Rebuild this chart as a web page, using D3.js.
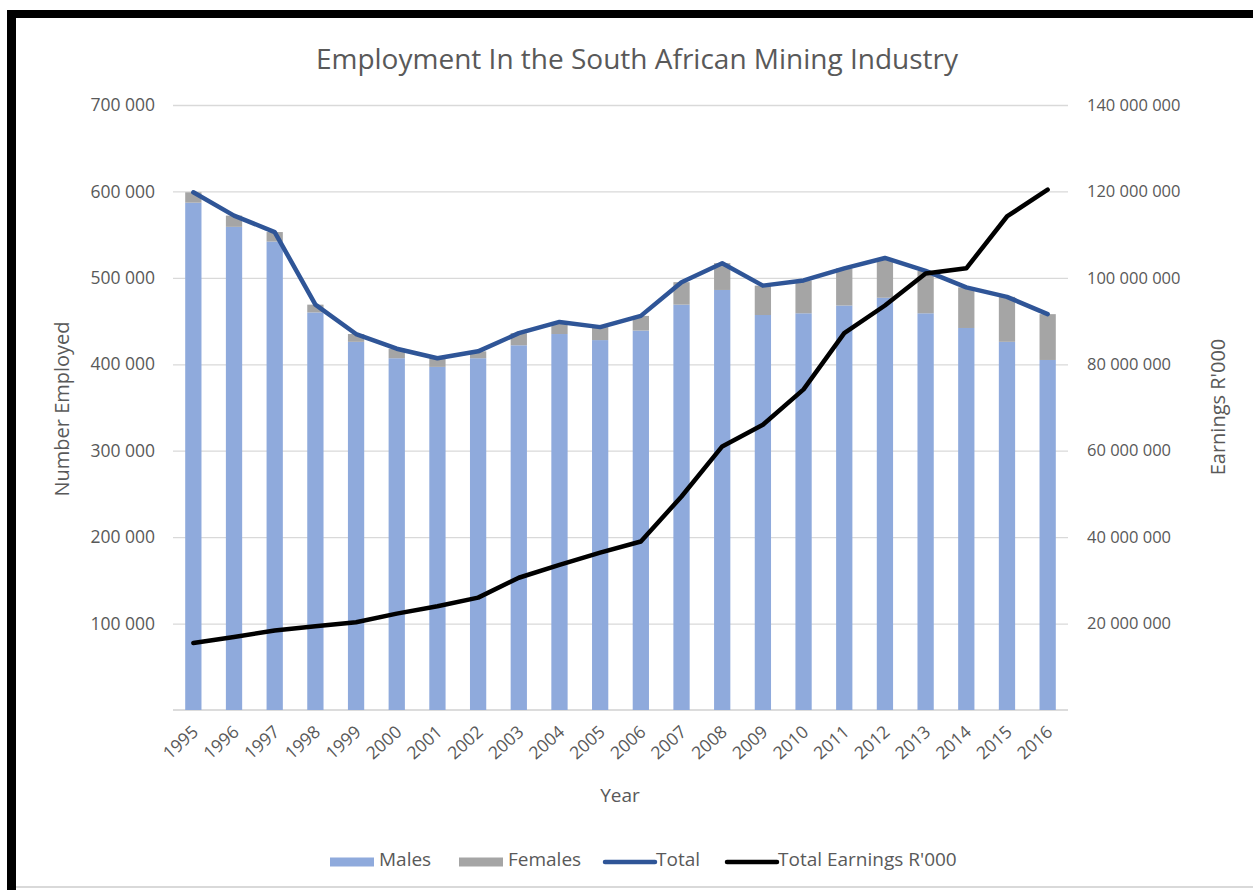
<!DOCTYPE html>
<html>
<head>
<meta charset="utf-8">
<script src="https://cdn.jsdelivr.net/npm/d3@7"></script>
<style>
  body { margin: 0; background: #fff; }
  text { font-family: 'Open Sans', sans-serif; fill: #595959; }
</style>
</head>
<body>
<script>
// values
let years = ['1995', '1996', '1997', '1998', '1999', '2000', '2001', '2002', '2003', '2004', '2005',
    '2006', '2007', '2008', '2009', '2010', '2011', '2012', '2013', '2014', '2015', '2016'];
let males = [587000, 559000, 542000, 460000, 426000, 407000, 397000, 407000, 422000, 435000, 428000,
    439000, 469000, 486000, 457000, 459000, 468000, 477000, 459000, 442000, 426000, 405000];
let totals = [599000, 572000, 553000, 469000, 435000, 418000, 407000, 415000, 436000, 449000, 443000,
    456000, 495000, 517000, 491000, 497000, 511000, 523000, 508000, 489000, 478000, 458000];
let earnings = [15500000, 16900000, 18400000, 19400000, 20300000, 22300000, 24000000, 26000000, 30600000,
    33600000, 36400000, 39000000, 49400000, 61000000, 66000000, 74200000, 87200000, 93600000, 101000000,
    102200000, 114200000, 120400000];
let leftTicks = [100000, 200000, 300000, 400000, 500000, 600000, 700000];
let rightTicks = [20000000, 40000000, 60000000, 80000000, 100000000, 120000000, 140000000];
let legendItems = ['Males', 'Females', 'Total', "Total Earnings R'000"];

let width = 1253, height = 890;
let plot = {left: 173, right: 1068, top: 105, bottom: 710};

let svg = d3.select('body').append('svg')
    .attr('width', width)
    .attr('height', height);

// frame of the screenshot
svg.append('rect').attr('x', 7).attr('y', 10).attr('width', width - 7).attr('height', 8).attr('fill', '#000');
svg.append('rect').attr('x', 7).attr('y', 10).attr('width', 9).attr('height', height - 10).attr('fill', '#000');
svg.append('rect').attr('x', 16).attr('y', 886).attr('width', width - 16).attr('height', 2).attr('fill', '#d9d9d9');

let x = d3.scaleBand()
    .domain(years)
    .range([plot.left, plot.right])
    .paddingInner(0.6)
    .paddingOuter(0.3);

let y = d3.scaleLinear().domain([0, 700000]).range([plot.bottom, plot.top]);
let y2 = d3.scaleLinear().domain([0, 140000000]).range([plot.bottom, plot.top]);

let fmt = v => d3.format(',')(v).replace(/,/g, ' ');

// gridlines + left axis
let leftAxis = svg.append('g')
    .attr('transform', 'translate(' + plot.left + ',0)')
    .call(d3.axisLeft(y).tickValues(leftTicks).tickFormat(fmt).tickSize(-(plot.right - plot.left)).tickPadding(18));
leftAxis.select('.domain').remove();
leftAxis.selectAll('line').attr('stroke', '#d9d9d9').attr('stroke-width', 1.3);
leftAxis.selectAll('text').style('font-size', '17.5px').style('fill', '#595959');

let rightAxis = svg.append('g')
    .attr('transform', 'translate(' + plot.right + ',0)')
    .call(d3.axisRight(y2).tickValues(rightTicks).tickFormat(fmt).tickSize(0).tickPadding(19));
rightAxis.select('.domain').remove();
rightAxis.selectAll('text').style('font-size', '16.5px').style('fill', '#595959');

// baseline
svg.append('line')
    .attr('x1', plot.left).attr('x2', plot.right)
    .attr('y1', plot.bottom).attr('y2', plot.bottom)
    .attr('stroke', '#d0d0d0').attr('stroke-width', 1.3);

// stacked bars
let rows = years.map((yr, i) => ({year: yr, males: males[i], females: totals[i] - males[i]}));
let stack = d3.stack().keys(['males', 'females'])(rows);
let colors = {males: '#8faadc', females: '#a5a5a5'};

svg.append('g').selectAll('g').data(stack).enter().append('g')
    .attr('fill', d => colors[d.key])
    .selectAll('rect').data(d => d).enter().append('rect')
    .attr('x', d => x(d.data.year))
    .attr('width', x.bandwidth())
    .attr('y', d => y(d[1]))
    .attr('height', d => y(d[0]) - y(d[1]));

// lines
let cx = yr => x(yr) + x.bandwidth() / 2;

let totalLine = d3.line().x((d, i) => cx(years[i])).y(d => y(d));
svg.append('path').datum(totals)
    .attr('d', totalLine)
    .attr('fill', 'none').attr('stroke', '#2f5597').attr('stroke-width', 4.5)
    .attr('stroke-linejoin', 'round').attr('stroke-linecap', 'round');

let earnLine = d3.line().x((d, i) => cx(years[i])).y(d => y2(d));
svg.append('path').datum(earnings)
    .attr('d', earnLine)
    .attr('fill', 'none').attr('stroke', '#000').attr('stroke-width', 4.5)
    .attr('stroke-linejoin', 'round').attr('stroke-linecap', 'round');

// x tick labels
svg.append('g').selectAll('text').data(years).enter().append('text')
    .attr('transform', d => 'translate(' + (cx(d) + 2) + ',' + 729 + ') rotate(-42)')
    .attr('text-anchor', 'end')
    .attr('dy', '0.35em')
    .style('font-size', '17.5px')
    .text(d => d);

// titles
svg.append('text')
    .attr('x', 637).attr('y', 58)
    .attr('text-anchor', 'middle').attr('dominant-baseline', 'central')
    .style('font-size', '28px')
    .text('Employment In the South African Mining Industry');

svg.append('text')
    .attr('x', 620).attr('y', 795)
    .attr('text-anchor', 'middle').attr('dominant-baseline', 'central')
    .style('font-size', '19px')
    .text('Year');

svg.append('text')
    .attr('transform', 'translate(61,409) rotate(-90)')
    .attr('text-anchor', 'middle').attr('dominant-baseline', 'central')
    .style('font-size', '20px')
    .text('Number Employed');

svg.append('text')
    .attr('transform', 'translate(1217,407) rotate(-90)')
    .attr('text-anchor', 'middle').attr('dominant-baseline', 'central')
    .style('font-size', '20px')
    .text("Earnings R'000");

// legend
let legendY = 862;
let legend = svg.append('g');
let legendPos = [330, 459, 605, 727];
legendItems.forEach((name, i) => {
    let lx = legendPos[i];
    if (i < 2) {
        legend.append('rect')
            .attr('x', lx).attr('y', legendY - 4.5)
            .attr('width', 44).attr('height', 9)
            .attr('fill', i === 0 ? colors.males : colors.females);
        legend.append('text')
            .attr('x', lx + 49).attr('y', legendY - 3)
            .attr('dominant-baseline', 'central')
            .style('font-size', '19px')
            .text(name);
    } else {
        legend.append('line')
            .attr('x1', lx).attr('x2', lx + 50)
            .attr('y1', legendY).attr('y2', legendY)
            .attr('stroke', i === 2 ? '#2f5597' : '#000').attr('stroke-width', 4.5)
            .attr('stroke-linecap', 'round');
        legend.append('text')
            .attr('x', lx + 51).attr('y', legendY - 3)
            .attr('dominant-baseline', 'central')
            .style('font-size', '19px')
            .text(name);
    }
});
</script>
</body>
</html>
